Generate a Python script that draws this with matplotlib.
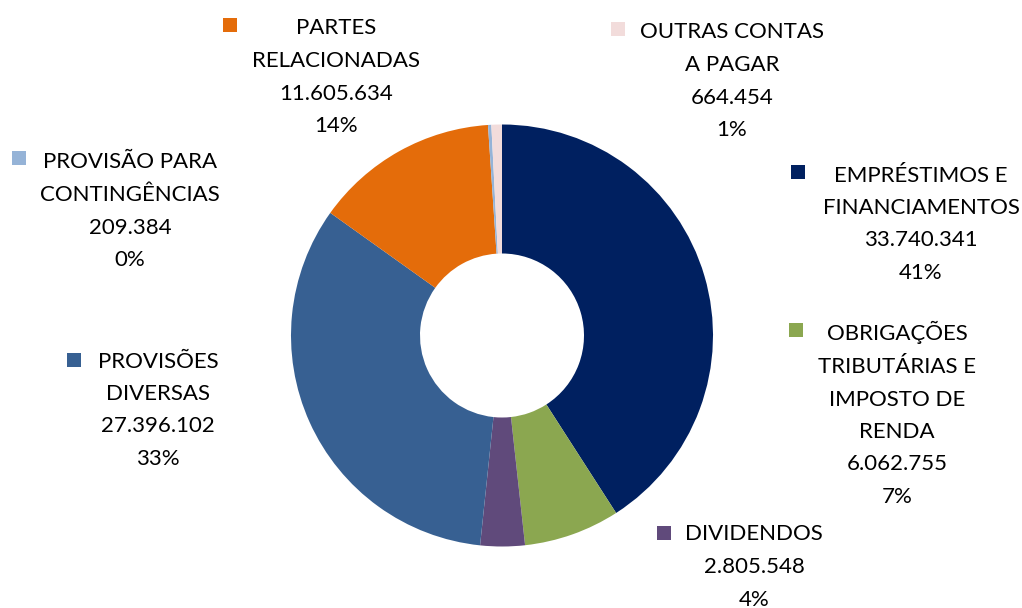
import matplotlib.pyplot as plt
from matplotlib.patches import Rectangle

# Dados do gráfico (sentido horário a partir do topo)
categorias = ['EMPRÉSTIMOS E\nFINANCIAMENTOS',
              'OBRIGAÇÕES\nTRIBUTÁRIAS E\nIMPOSTO DE\nRENDA',
              'DIVIDENDOS',
              'PROVISÕES\nDIVERSAS',
              'PARTES\nRELACIONADAS',
              'PROVISÃO PARA\nCONTINGÊNCIAS',
              'OUTRAS CONTAS\nA PAGAR']
valores = [33740341, 6062755, 2805548, 27396102, 11605634, 209384, 664454]
rotulos_valor = ['33.740.341', '6.062.755', '2.805.548', '27.396.102',
                 '11.605.634', '209.384', '664.454']
rotulos_pct = ['41%', '7%', '4%', '33%', '14%', '0%', '1%']
cores = ['#002060', '#8BA750', '#604A7B', '#376092', '#E46C0A', '#95B3D7', '#F2DCDB']

# Posições dos rótulos em pixels (centro do texto, primeira linha) e do quadrado
pos_texto = [(921, 174), (897, 333), (754, 533), (158, 360), (336, 27), (130, 161), (732, 31)]
pos_quadrado = [(798, 172), (796, 330), (664, 533), (74, 360), (230, 25), (19, 158), (618, 29)]

W, H = 1022, 608
fig = plt.figure(figsize=(W / 100, H / 100), dpi=100)
ax = fig.add_axes([0, 0, 1, 1])
ax.set_xlim(0, W)
ax.set_ylim(0, H)
ax.set_aspect('equal')
ax.axis('off')

# Rosca
ax.pie(valores, colors=cores, startangle=90, counterclock=False,
       center=(502, H - 335.5), radius=211,
       wedgeprops=dict(width=129, linewidth=0))
ax.set_xlim(0, W)
ax.set_ylim(0, H)

fonte = dict(family=['Lato', 'DejaVu Sans'], fontsize=16, color='#000000')
passo = 32.5

for i, cat in enumerate(categorias):
    linhas = cat.split('\n') + [rotulos_valor[i], rotulos_pct[i]]
    x, y = pos_texto[i]
    for j, lin in enumerate(linhas):
        ax.text(x, H - (y + j * passo + 7.5), lin, ha='center', va='baseline', **fonte)
    qx, qy = pos_quadrado[i]
    ax.add_patch(Rectangle((qx - 7, H - qy - 7), 14, 14, color=cores[i], lw=0))

fig.savefig('out.png', dpi=100)
